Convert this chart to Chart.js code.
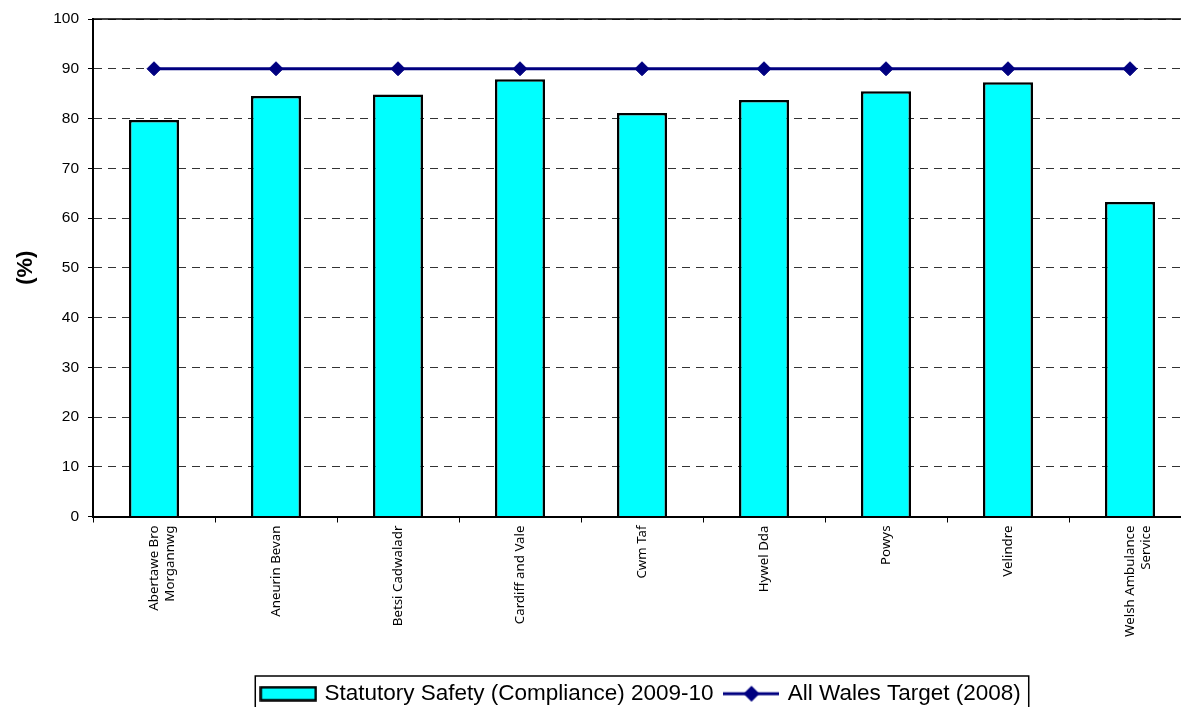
<!DOCTYPE html>
<html>
<head>
<meta charset="utf-8">
<script src="https://cdn.jsdelivr.net/npm/chart.js@4/dist/chart.umd.min.js"></script>
<style>
  html, body { margin: 0; padding: 0; background: #fff; overflow: hidden; }
  canvas { display: block; }
</style>
</head>
<body>
<canvas id="c" width="1199" height="715"></canvas>
<script>
// Health bodies in Wales
const categories = [
  ['Abertawe Bro', 'Morgannwg'],
  'Aneurin Bevan',
  'Betsi Cadwaladr',
  'Cardiff and Vale',
  'Cwm Taf',
  'Hywel Dda',
  'Powys',
  'Velindre',
  ['Welsh Ambulance', 'Service']
];
// Statutory safety compliance, 2009-10 (%)
const compliance = [79.7, 84.5, 84.8, 87.9, 81.1, 83.7, 85.5, 87.3, 63.2];
// All Wales target (2008) (%)
const target = [90, 90, 90, 90, 90, 90, 90, 90, 90];
const yTickValues = [0, 10, 20, 30, 40, 50, 60, 70, 80, 90, 100];

const seriesNames = ['Statutory Safety (Compliance) 2009-10', 'All Wales Target (2008)'];

// Legend swatches
function barSwatch() {
  const c = document.createElement('canvas');
  c.width = 58; c.height = 16;
  const g = c.getContext('2d');
  g.fillStyle = '#00FFFF';
  g.fillRect(1.5, 1.5, 55, 13);
  g.strokeStyle = '#000';
  g.lineWidth = 2.5;
  g.strokeRect(1.5, 1.5, 55, 13);
  return c;
}
function lineSwatch() {
  const c = document.createElement('canvas');
  c.width = 56; c.height = 18;
  const g = c.getContext('2d');
  g.strokeStyle = '#000080';
  g.lineWidth = 3;
  g.beginPath(); g.moveTo(0, 9); g.lineTo(56, 9); g.stroke();
  g.fillStyle = '#000080';
  g.beginPath();
  g.moveTo(28 - 8, 9); g.lineTo(28, 1); g.lineTo(28 + 8, 9); g.lineTo(28, 17);
  g.closePath(); g.fill();
  return c;
}

// Solid frame line along the top of the plot, and a box round the legend
const framePlugin = {
  id: 'frame',
  afterDraw(chart) {
    const ctx = chart.ctx;
    const a = chart.chartArea;
    ctx.save();
    ctx.strokeStyle = '#000';
    ctx.lineWidth = 1.5;
    ctx.beginPath();
    ctx.moveTo(a.left, a.top);
    ctx.lineTo(a.right, a.top);
    ctx.stroke();

    const hb = chart.legend.legendHitBoxes;
    if (hb && hb.length) {
      let l = Infinity, r = -Infinity;
      hb.forEach(b => { l = Math.min(l, b.left); r = Math.max(r, b.left + b.width); });
      const top = chart.legend.top + 6.5;
      ctx.lineWidth = 1.5;
      ctx.strokeRect(l - 8, top, (r - l) + 16, chart.height - top + 2);
    }
    ctx.restore();
  }
};

new Chart(document.getElementById('c'), {
  data: {
    labels: categories,
    datasets: [
      {
        type: 'bar',
        label: seriesNames[0],
        data: compliance,
        backgroundColor: '#00FFFF',
        borderColor: '#000',
        borderWidth: 2.5,
        barPercentage: 0.41,
        categoryPercentage: 1,
        order: 2
      },
      {
        type: 'line',
        label: seriesNames[1],
        data: target,
        borderColor: '#000080',
        backgroundColor: '#000080',
        borderWidth: 3,
        pointStyle: 'rectRot',
        pointRadius: 7,
        pointBorderWidth: 1,
        pointBackgroundColor: '#000080',
        pointBorderColor: '#000080',
        tension: 0,
        order: 1
      }
    ]
  },
  options: {
    responsive: false,
    animation: false,
    layout: { padding: { top: 19, right: 0, bottom: 0, left: 0 } },
    plugins: {
      tooltip: { enabled: false },
      legend: {
        position: 'bottom',
        fullSize: false,
        labels: {
          usePointStyle: true,
          pointStyleWidth: 50,
          padding: 13,
          color: '#000',
          font: { family: 'Liberation Sans', size: 22.5 },
          generateLabels() {
            return [
              { text: seriesNames[0], pointStyle: barSwatch(), datasetIndex: 0, fillStyle: '#00FFFF', strokeStyle: '#000', lineWidth: 0, hidden: false },
              { text: seriesNames[1], pointStyle: lineSwatch(), datasetIndex: 1, fillStyle: '#000080', strokeStyle: '#000080', lineWidth: 0, hidden: false }
            ];
          }
        }
      }
    },
    scales: {
      x: {
        offset: true,
        grid: { offset: true, drawOnChartArea: false, drawTicks: true, tickLength: 6, color: '#000', lineWidth: 1 },
        border: { display: true, color: '#000', width: 2 },
        ticks: {
          autoSkip: false,
          minRotation: 90,
          maxRotation: 90,
          padding: 3,
          color: '#000',
          font: { family: 'Noto Sans', size: 13.3 }
        },
        afterFit(scale) { scale.height = 153; }
      },
      y: {
        min: 0,
        max: 100,
        afterBuildTicks(scale) { scale.ticks = yTickValues.map(v => ({ value: v })); },
        grid: {
          color: '#333',
          lineWidth: 1,
          drawTicks: true,
          tickLength: 5,
          tickColor: '#000',
          tickBorderDash: []
        },
        border: { display: true, color: '#000', width: 2, dash: [8, 6] },
        ticks: {
          padding: 9,
          color: '#000',
          font: { family: 'Liberation Sans', size: 15.5 }
        },
        title: {
          display: true,
          text: '(%)',
          color: '#000',
          font: { family: 'Liberation Sans', size: 22, weight: 'bold' },
          padding: { top: 13, bottom: 0 }
        },
        afterFit(scale) { scale.width = 93; }
      }
    }
  },
  plugins: [framePlugin]
});
</script>
</body>
</html>
